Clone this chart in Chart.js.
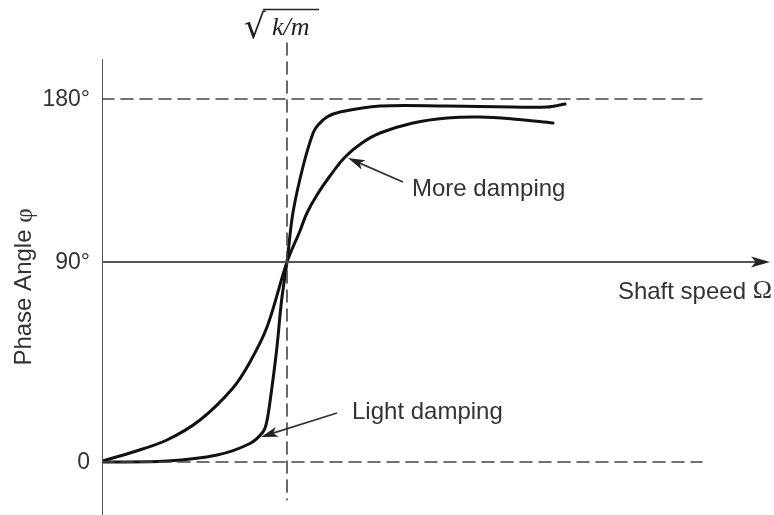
<!DOCTYPE html>
<html>
<head>
<meta charset="utf-8">
<script src="https://cdn.jsdelivr.net/npm/chart.js@4.4.1/dist/chart.umd.min.js"></script>
<style>
  html, body { margin: 0; padding: 0; background: #fff; }
  #wrap { width: 774px; height: 515px; position: relative; }
</style>
</head>
<body>
<div id="wrap"><canvas id="chart"></canvas></div>
<script>
// x in units of sqrt(k/m), y in phase units (90 = 90°, the 180° line sits at 163.35 as drawn in the figure)
const lightX = [0, 0.351, 0.622, 0.8, 0.87, 0.889, 0.908, 0.944, 0.971, 1.0, 1.032, 1.086, 1.141, 1.168, 1.216, 1.286, 1.503, 1.865, 2.222, 2.405, 2.503];
const lightY = [0, 0.45, 3.15, 8.33, 13.5, 17.55, 27.0, 50.4, 72.9, 90, 112.05, 132.75, 148.05, 151.65, 155.25, 157.5, 160.2, 160.2, 159.75, 159.75, 161.1];

const moreX = [0, 0.168, 0.351, 0.53, 0.708, 0.8, 0.892, 1.0, 1.07, 1.108, 1.162, 1.232, 1.314, 1.405, 1.503, 1.681, 1.865, 2.043, 2.222, 2.438];
const moreY = [0.45, 4.5, 9.9, 18.9, 33.3, 45, 60.75, 90, 103.95, 112.05, 120.15, 128.7, 137.25, 143.55, 148.05, 152.55, 154.8, 155.25, 154.35, 152.55];

const yTickValues = [0, 90, 163.35];
const yTickLabels = ["0", "90°", "180°"];

const resonanceX = 1;
const dashEndX = 3.243;
const axisEndX = 3.611;
const yMin = -23.85;
const yMax = 190.8;

const sans = "'Liberation Sans', Arial, sans-serif";
const serif = "'Liberation Serif', 'Times New Roman', serif";

function pts(xs, ys) {
  return xs.map((x, i) => ({ x: x, y: ys[i] }));
}

function arrow(ctx, x1, y1, x2, y2, len, half) {
  const a = Math.atan2(y2 - y1, x2 - x1);
  const c = Math.cos(a), s = Math.sin(a);
  ctx.beginPath();
  ctx.moveTo(x1, y1);
  ctx.lineTo(x2 - c * len * 0.6, y2 - s * len * 0.6);
  ctx.stroke();
  ctx.beginPath();
  ctx.moveTo(x2, y2);
  ctx.lineTo(x2 - c * len + s * half, y2 - s * len - c * half);
  ctx.lineTo(x2 - c * len * 0.75, y2 - s * len * 0.75);
  ctx.lineTo(x2 - c * len - s * half, y2 - s * len + c * half);
  ctx.closePath();
  ctx.fill();
}

const labels = {
  id: "labels",
  afterDatasetsDraw(chart) {
    const ctx = chart.ctx;
    const xs = chart.scales.x;
    const ys = chart.scales.y;
    ctx.save();
    ctx.fillStyle = "#333";
    ctx.font = "23px " + sans;
    ctx.textAlign = "right";
    ctx.textBaseline = "middle";
    yTickValues.forEach((v, i) => {
      ctx.fillText(yTickLabels[i], xs.getPixelForValue(0) - 12, ys.getPixelForValue(v) + 1);
    });

    // axis arrow head
    ctx.strokeStyle = "#555";
    ctx.fillStyle = "#222";
    ctx.lineWidth = 2;
    arrow(ctx, xs.getPixelForValue(3.4), ys.getPixelForValue(90), xs.getPixelForValue(axisEndX), ys.getPixelForValue(90), 19, 5.5);

    // annotation arrows
    ctx.strokeStyle = "#333";
    ctx.lineWidth = 1.8;
    arrow(ctx, 403, 182, 348, 158, 17, 5);
    arrow(ctx, 337, 413, 261, 437, 17, 5);

    ctx.fillStyle = "#333";
    ctx.textAlign = "left";
    ctx.font = "24px " + sans;
    ctx.fillText("More damping", 412, 189);
    ctx.fillText("Light damping", 352, 412);

    // x axis title
    ctx.font = "26px " + serif;
    const omW = ctx.measureText("Ω").width;
    ctx.textAlign = "right";
    ctx.fillText("Ω", 772, 291);
    ctx.font = "24px " + sans;
    ctx.fillText("Shaft speed ", 772 - omW, 292);

    // y axis title
    ctx.save();
    ctx.translate(24, 287);
    ctx.rotate(-Math.PI / 2);
    ctx.font = "24px " + sans;
    const t1 = "Phase Angle ";
    const w1 = ctx.measureText(t1).width;
    ctx.font = "25px " + serif;
    const w2 = ctx.measureText("φ").width;
    const x0 = -(w1 + w2) / 2;
    ctx.textAlign = "left";
    ctx.font = "24px " + sans;
    ctx.fillText(t1, x0, 0);
    ctx.font = "25px " + serif;
    ctx.fillText("φ", x0 + w1, 1);
    ctx.restore();

    // sqrt(k/m)
    ctx.fillStyle = "#222";
    ctx.strokeStyle = "#222";
    ctx.textAlign = "left";
    ctx.textBaseline = "alphabetic";
    ctx.font = "34px 'DejaVu Serif', serif";
    ctx.fillText("√", 244, 38);
    ctx.lineWidth = 1.6;
    ctx.beginPath();
    ctx.moveTo(263, 9.5);
    ctx.lineTo(319, 9.5);
    ctx.stroke();
    ctx.font = "italic 26px " + serif;
    ctx.fillText("k/m", 272, 35);
    ctx.restore();
  }
};

const dashStyle = { borderColor: "#444", borderWidth: 1.6, borderDash: [12, 7], pointRadius: 0, fill: false, tension: 0 };
const axisStyle = { borderColor: "#555", borderWidth: 2, pointRadius: 0, fill: false, tension: 0 };
const curveStyle = { borderColor: "#111", borderWidth: 3, pointRadius: 0, fill: false, tension: 0.35 };

new Chart(document.getElementById("chart"), {
  type: "line",
  data: {
    datasets: [
      Object.assign({ label: "180", data: [{ x: 0, y: 163.35 }, { x: dashEndX, y: 163.35 }] }, dashStyle),
      Object.assign({ label: "zero", data: [{ x: 0, y: 0 }, { x: dashEndX, y: 0 }] }, dashStyle),
      Object.assign({ label: "resonance", data: [{ x: resonanceX, y: 188.5 }, { x: resonanceX, y: -17 }] }, dashStyle),
      Object.assign({ label: "y axis", data: [{ x: 0, y: 180.9 }, { x: 0, y: yMin }] }, axisStyle),
      Object.assign({ label: "x axis", data: [{ x: 0, y: 90 }, { x: 3.45, y: 90 }] }, axisStyle),
      Object.assign({ label: "Light damping", data: pts(lightX, lightY) }, curveStyle),
      Object.assign({ label: "More damping", data: pts(moreX, moreY) }, curveStyle),
    ],
  },
  options: {
    responsive: true,
    maintainAspectRatio: false,
    animation: false,
    layout: { padding: { left: 102, right: 4, top: 38, bottom: 0 } },
    plugins: { legend: { display: false }, tooltip: { enabled: false } },
    scales: {
      x: { type: "linear", min: 0, max: axisEndX, display: false },
      y: { type: "linear", min: yMin, max: yMax, display: false },
    },
    elements: { line: { borderCapStyle: "round", borderJoinStyle: "round" } },
  },
  plugins: [labels],
});
</script>
</body>
</html>
